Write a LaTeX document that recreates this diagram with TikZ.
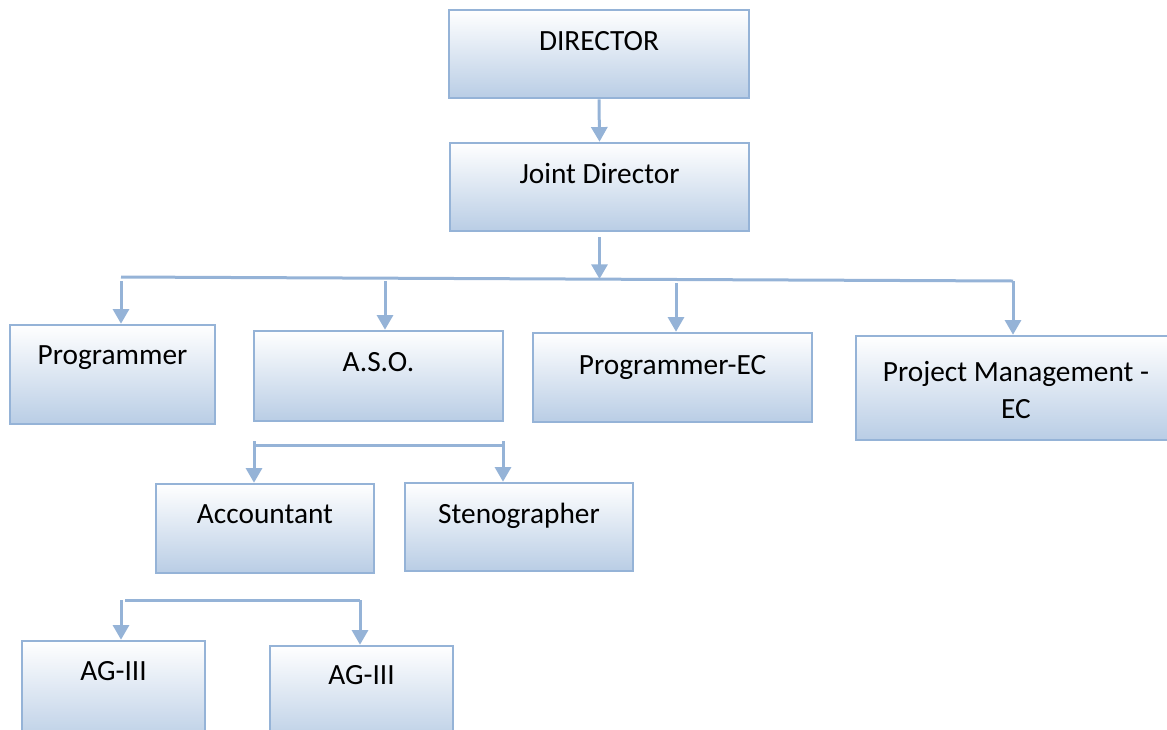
\documentclass[tikz,border=0pt]{standalone}
\usepackage{fontspec}
\setmainfont{Carlito}
\usetikzlibrary{arrows.meta,fit,calc}
\definecolor{bd}{RGB}{149,179,215}
\definecolor{fillb}{RGB}{185,205,229}
\begin{document}
\begin{tikzpicture}[x=0.75pt,y=-0.75pt,
 box/.style={draw=bd, line width=1.9pt, top color=white, bottom color=fillb, inner sep=0pt, rectangle},
 lbl/.style={anchor=base, font=\fontsize{22}{28}\selectfont, align=center, inner sep=0pt},
 conn/.style={draw=bd, line width=2.25pt},
 arr/.style={conn, -{Triangle[width=12pt,length=11pt]}}]
\useasboundingbox (0,0) rectangle (1167,729);
\clip (0,0) rectangle (1167,729);
% boxes
\node[box, fit={(449,10)(749,98)}] (dir) {};
\node[box, fit={(450,143)(749,231)}] (jd) {};
\node[box, fit={(10,325)(215,424)}] (prog) {};
\node[box, fit={(254,331)(503,421)}] (aso) {};
\node[box, fit={(533,333)(812,422)}] (pec) {};
\node[box, fit={(856,336)(1176,440)}] (pm) {};
\node[box, fit={(156,484)(374,573)}] (acc) {};
\node[box, fit={(405,483)(633,571)}] (steno) {};
\node[box, fit={(22,641)(205,745)}] (agA) {};
\node[box, fit={(270,646)(453,745)}] (agB) {};
% labels
\node[lbl] (tdir) at ($(dir.north)+(0,42)$) {DIRECTOR};
\node[lbl] (tjd) at ($(jd.north)+(0,42)$) {Joint Director};
\node[lbl] (tprog) at ($(prog.north)+(0,41)$) {Programmer};
\node[lbl] (taso) at ($(aso.north)+(0,42)$) {A.S.O.};
\node[lbl] (tpec) at ($(pec.north)+(0,43)$) {Programmer-EC};
\node[lbl] (tpm) at ($(pm.north)+(0,84)$) {Project Management -\\EC};
\node[lbl] (tacc) at ($(acc.north)+(0,41)$) {Accountant};
\node[lbl] (tsteno) at ($(steno.north)+(0,42)$) {Stenographer};
\node[lbl] (tagA) at ($(agA.north)+(0,41)$) {AG-III};
\node[lbl] (tagB) at ($(agB.north)+(0,40)$) {AG-III};
% connectors
\draw[arr] (dir.south) -- (jd.north);
\coordinate (bL) at (121,277);
\coordinate (bR) at (1013,281);
\coordinate (bM) at (600,279);
\draw[conn] (bL) -- (bR);
\draw[arr, shorten <=3.75pt] (jd.south) -- (jd.south |- bM);
\coordinate (t1) at (121,281);
\coordinate (t2) at (385,281);
\coordinate (t3) at (676,283);
\coordinate (t4) at (1013,281);
\draw[arr] (t1) -- (t1 |- prog.north);
\draw[arr] (t2) -- (t2 |- aso.north);
\draw[arr] (t3) -- (t3 |- pec.north);
\draw[arr] (t4) -- (t4 |- pm.north);
% ASO sub-branch
\coordinate (s1) at (254,445);
\coordinate (s2) at (503,445);
\draw[conn] (s1) -- (s2);
\draw[arr] ($(s1)+(0,-4)$) -- (s1 |- acc.north);
\draw[arr] ($(s2)+(0,-4)$) -- (s2 |- steno.north);
% AG sub-branch
\coordinate (g1) at (121,600);
\coordinate (g2) at (360,600);
\draw[conn] (125,600) -- (g2);
\draw[arr] (g1) -- (g1 |- agA.north);
\draw[arr] (g2) -- (g2 |- agB.north);
\end{tikzpicture}
\end{document}
